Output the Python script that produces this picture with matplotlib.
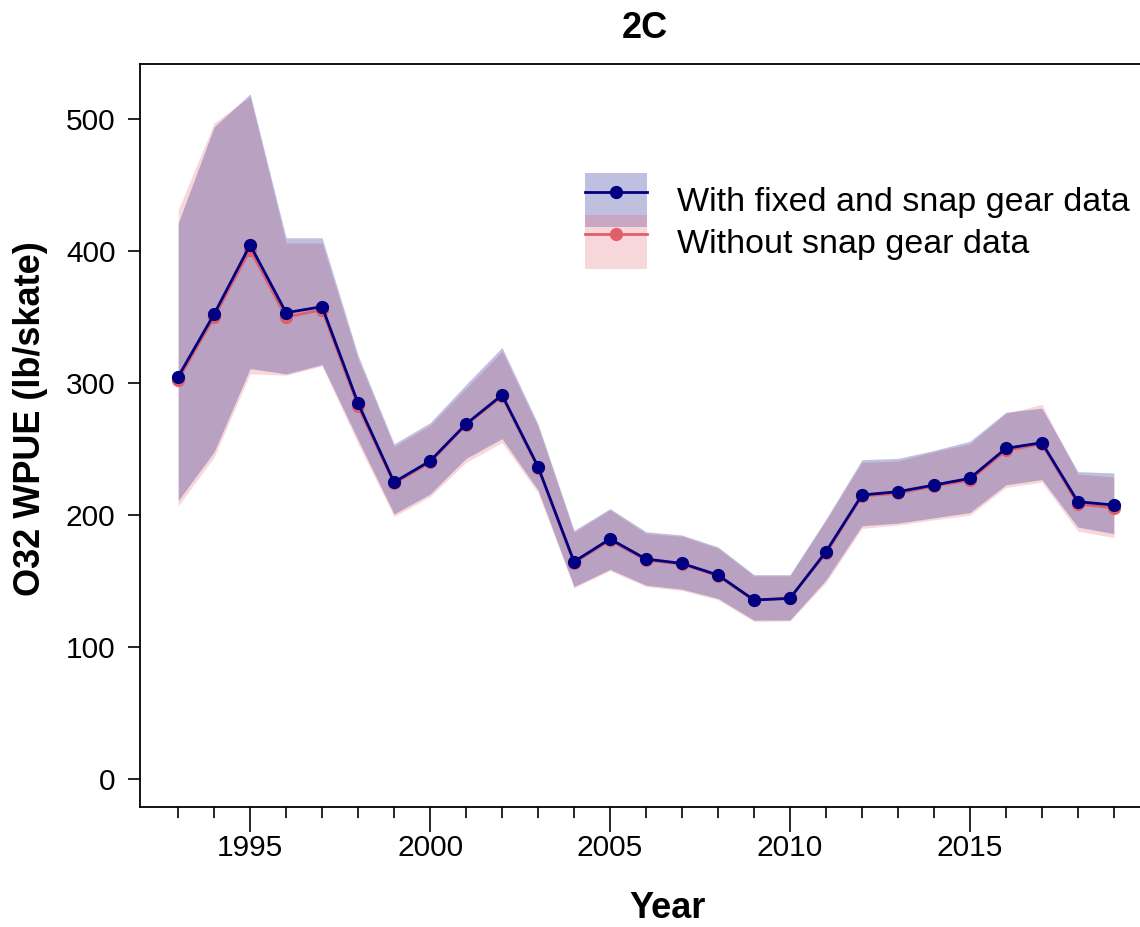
import numpy as np
import matplotlib
matplotlib.use('Agg')
import matplotlib.pyplot as plt
from matplotlib.patches import Patch
from matplotlib.lines import Line2D

plt.rcParams['font.family'] = ['Liberation Sans', 'DejaVu Sans']

# data (2C)
years = np.arange(1993, 2020)

with_snap = [304.8, 352.3, 404.6, 353.3, 357.9, 284.7, 225.0, 241.0, 269.0, 291.0,
             236.7, 164.8, 182.0, 166.8, 163.5, 154.7, 135.8, 137.0, 172.3, 215.3,
             217.8, 222.8, 227.9, 250.6, 254.9, 210.2, 207.7]
with_snap_hi = [421, 494, 519, 410, 410, 321, 254, 270, 299, 327,
                269, 188.5, 205, 187.5, 185, 176, 155, 155, 197, 242,
                243, 249, 256, 278, 281, 233, 232]
with_snap_lo = [211, 248, 311, 307, 314, 257, 201, 216, 243, 258,
                219, 146, 159, 147, 144, 137, 120.6, 120.6, 151, 192,
                194, 198, 202, 223, 227, 191, 186]

no_snap = [302.5, 350.0, 401.0, 350.0, 355.5, 282.5, 224.0, 240.0, 268.5, 290.0,
           236.0, 164.0, 181.0, 166.0, 163.0, 154.0, 135.5, 137.5, 171.0, 214.5,
           216.5, 222.0, 226.5, 249.0, 254.0, 208.5, 205.5]
no_snap_hi = [431, 497, 517, 406, 406, 318, 252, 268, 296, 324,
              267, 187, 204, 186, 184, 175, 154, 154, 196, 240,
              241, 248, 254, 277, 284, 231, 229]
no_snap_lo = [207, 244, 307, 306, 313, 254, 199, 214, 240, 255,
              217, 145, 158, 146, 143, 136, 119.5, 120, 149, 190,
              192.5, 196.5, 200, 221, 225, 188, 183]

labels = ['With fixed and snap gear data', 'Without snap gear data']
blue = '#000080'
red = '#E0606A'

W, H = 1140, 927
fig = plt.figure(figsize=(W / 100, H / 100), dpi=100)
ax = fig.add_axes([140 / W, (H - 806.7) / H, (1152 - 140) / W, (806.7 - 64) / H])

# bands: red first, blue on top
ax.fill_between(years, no_snap_lo, no_snap_hi, color=red, alpha=0.25, lw=0)
ax.fill_between(years, with_snap_lo, with_snap_hi, color=blue, alpha=0.25, lw=0)
ax.plot(years, no_snap, color=red, lw=2, marker='o', ms=8.5)
ax.plot(years, with_snap, color=blue, lw=2, marker='o', ms=8.5)

ax.set_xlim(1991.94, 2020.06)
ax.set_ylim(-20.7, 541.6)

ax.set_xticks(np.arange(1995, 2016, 5))
ax.set_xticks(years, minor=True)
ax.set_yticks(np.arange(0, 501, 100))
ax.tick_params(axis='x', which='major', length=18, width=1.2, pad=2, labelsize=21.5)
ax.tick_params(axis='x', which='minor', length=8, width=1.2)
ax.tick_params(axis='y', length=8.6, width=1.2, pad=9, labelsize=21.5)
for s in ax.spines.values():
    s.set_linewidth(1.3)

fig.text(645 / W, 1 - 38.3 / H, '2C', ha='center', va='baseline',
         fontsize=26, fontweight='bold')
fig.text(668 / W, 1 - 918 / H, 'Year', ha='center', va='baseline',
         fontsize=26, fontweight='bold')
fig.text(31 / W, 1 - 419 / H, 'O32 WPUE (lb/skate)', ha='center', va='center',
         rotation=90, fontsize=26, fontweight='bold')

h1 = (Patch(facecolor=blue, alpha=0.25, lw=0),
      Line2D([], [], color=blue, lw=2, marker='o', ms=8.5))
h2 = (Patch(facecolor=red, alpha=0.25, lw=0),
      Line2D([], [], color=red, lw=2, marker='o', ms=8.5))
fs = 24.5 * 100 / 72
ax.legend([h1, h2], labels, loc='upper left',
          bbox_to_anchor=(585 / W, 1 - 173 / H), bbox_transform=fig.transFigure,
          frameon=False, fontsize=24.5, borderpad=0, borderaxespad=0,
          handlelength=62 / fs, handleheight=2.07,
          handletextpad=30 / fs, labelspacing=-12 / fs)

fig.savefig('out.png', dpi=100)
